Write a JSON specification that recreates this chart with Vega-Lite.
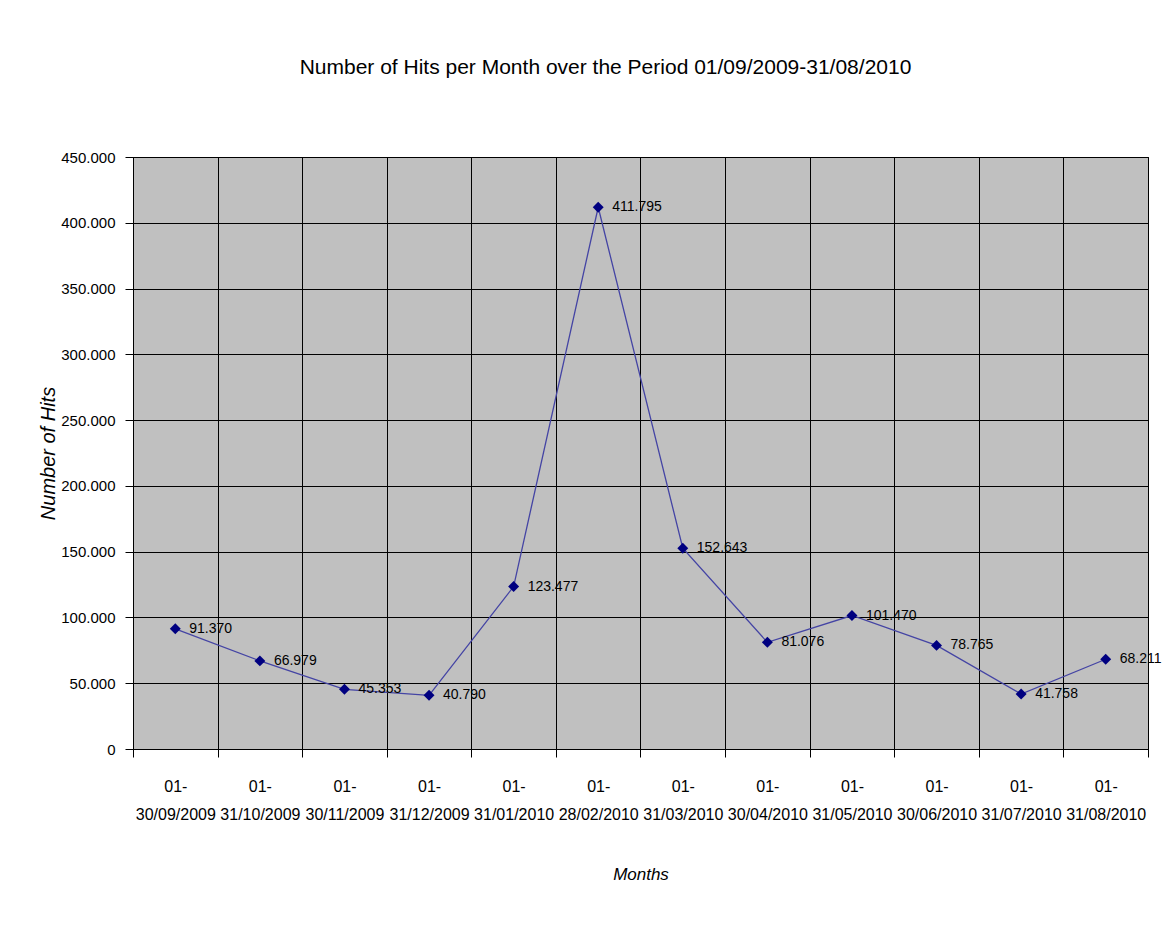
{
  "$schema": "https://vega.github.io/schema/vega-lite/v6.json",
  "autosize": "none",
  "width": 1015,
  "height": 592,
  "padding": {"left": 133, "top": 157, "right": 16, "bottom": 178},
  "background": "white",
  "title": {
    "text": "Number of Hits per Month over the Period 01/09/2009-31/08/2010",
    "font": "Liberation Sans",
    "fontSize": 21,
    "fontWeight": "normal",
    "color": "black",
    "anchor": "middle",
    "frame": "group",
    "dx": -35,
    "offset": 72
  },
  "config": {
    "locale": {"number": {"decimal": ",", "thousands": ".", "grouping": [3], "currency": ["", " €"]}},
    "view": {"fill": "#c0c0c0", "stroke": "black", "strokeWidth": 1},
    "axis": {
      "labelFont": "Liberation Sans",
      "titleFont": "Liberation Sans",
      "labelColor": "black",
      "titleColor": "black",
      "titleFontWeight": "normal",
      "titleFontStyle": "italic",
      "domainColor": "black",
      "tickColor": "black",
      "gridColor": "black",
      "gridOpacity": 1,
      "gridWidth": 1,
      "tickSize": 8
    }
  },
  "data": {
    "values": [
      {"month": "01-30/09/2009", "hits": 91370},
      {"month": "01-31/10/2009", "hits": 66979},
      {"month": "01-30/11/2009", "hits": 45353},
      {"month": "01-31/12/2009", "hits": 40790},
      {"month": "01-31/01/2010", "hits": 123477},
      {"month": "01-28/02/2010", "hits": 411795},
      {"month": "01-31/03/2010", "hits": 152643},
      {"month": "01-30/04/2010", "hits": 81076},
      {"month": "01-31/05/2010", "hits": 101470},
      {"month": "01-30/06/2010", "hits": 78765},
      {"month": "01-31/07/2010", "hits": 41758},
      {"month": "01-31/08/2010", "hits": 68211}
    ]
  },
  "encoding": {
    "x": {
      "field": "month",
      "type": "ordinal",
      "sort": null,
      "bandPosition": 0.5,
      "scale": {"type": "band", "paddingInner": 0, "paddingOuter": 0},
      "axis": {
        "title": "Months",
        "titleFontSize": 17,
        "titlePadding": 44,
        "tickBand": "extent",
        "grid": true,
        "labelAngle": 0,
        "labelFontSize": 16,
        "labelPadding": 21,
        "labelLineHeight": 28,
        "labelExpr": "isValid(datum.value) ? ['01-', substring(datum.value, 3)] : ''"
      }
    },
    "y": {
      "field": "hits",
      "type": "quantitative",
      "scale": {"domain": [0, 450000], "nice": false},
      "axis": {
        "title": "Number of Hits",
        "titleFontSize": 20,
        "values": [0, 50000, 100000, 150000, 200000, 250000, 300000, 350000, 400000, 450000],
        "labelExpr": "format(datum.value, ',.0f')",
        "labelFontSize": 15,
        "labelPadding": 10,
        "titlePadding": 2,
        "grid": true
      }
    }
  },
  "layer": [
    {"mark": {"type": "line", "color": "#4444a4", "strokeWidth": 1.3}},
    {"mark": {"type": "point", "shape": "diamond", "filled": true, "color": "#000080", "size": 120, "opacity": 1}},
    {
      "mark": {"type": "text", "align": "left", "baseline": "middle", "dx": 14, "font": "Liberation Sans", "fontSize": 14, "color": "black"},
      "encoding": {"text": {"field": "hits", "type": "quantitative", "format": ","}}
    }
  ]
}
